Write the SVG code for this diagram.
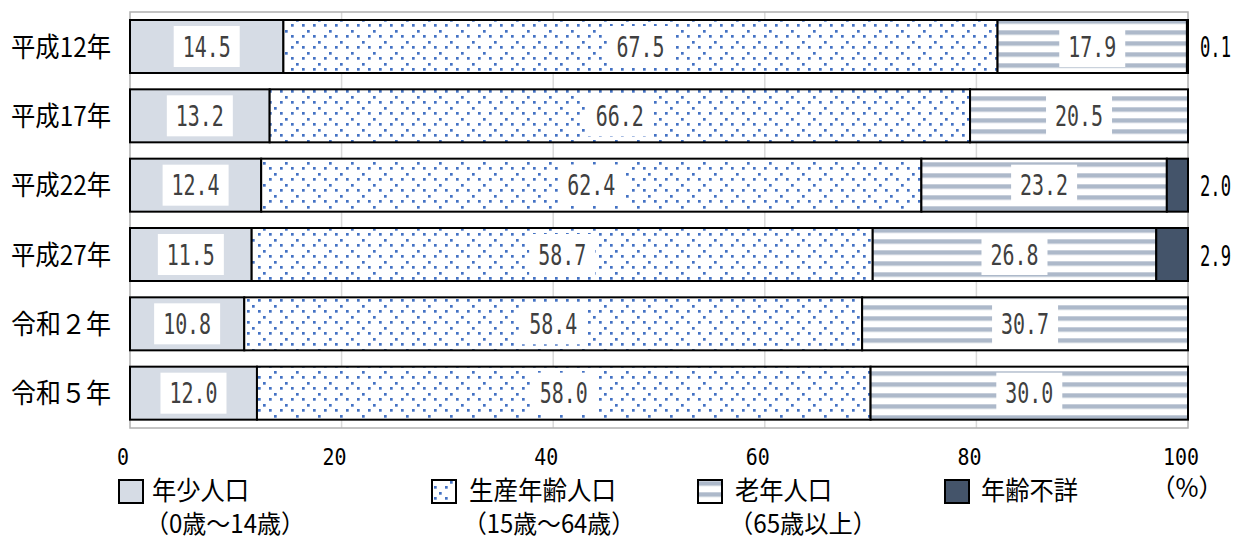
<svg xmlns="http://www.w3.org/2000/svg" width="1240" height="536" viewBox="0 0 1240 536">
<defs>
<pattern id="dots" patternUnits="userSpaceOnUse" x="291" y="24" width="22" height="22">
<rect width="22" height="22" fill="#ffffff"/>
<g fill="#4472c4">
<rect x="0" y="0" width="2.7" height="2.7"/><rect x="11" y="0" width="2.7" height="2.7"/>
<rect x="0" y="11" width="2.7" height="2.7"/><rect x="11" y="11" width="2.7" height="2.7"/>
<rect x="16" y="6" width="2.7" height="2.7"/><rect x="5" y="17" width="2.7" height="2.7"/>
</g>
</pattern>
<pattern id="stripes" patternUnits="userSpaceOnUse" x="0" y="8.3" width="22" height="11">
<rect width="22" height="11" fill="#ffffff"/>
<rect width="22" height="4.5" fill="#adb9ca"/>
</pattern>
<style>
.seg{stroke:#000;stroke-width:2}
.young{fill:#d6dce5}
.prod{fill:url(#dots)}
.old{fill:url(#stripes)}
.unk{fill:#44546a}
.lbox{fill:#fff}
.val{font-family:"DejaVu Sans Mono",monospace;font-size:29px;fill:#404040;text-anchor:middle}
.out{font-family:"DejaVu Sans Mono",monospace;font-size:28px;fill:#000}
.ax{font-family:"DejaVu Sans Mono",monospace;font-size:23px;fill:#000;text-anchor:middle}
.yl{font-family:"Noto Sans CJK JP","Noto Sans CJK SC",sans-serif;font-size:27px;fill:#000}
.lg{font-family:"Noto Sans CJK JP","Noto Sans CJK SC",sans-serif;font-size:26px;fill:#000}
.lg2{font-family:"Noto Sans CJK JP","Noto Sans CJK SC",sans-serif;font-size:25px;fill:#000}
.grid{stroke:#d9d9d9;stroke-width:1.5}
.frame{fill:none;stroke:#b0b0b0;stroke-width:1.5}
</style>
</defs>
<rect width="1240" height="536" fill="#fff"/>
<g id="plot-frame">
<line class="grid" x1="341.6" y1="12" x2="341.6" y2="428"/>
<line class="grid" x1="553.2" y1="12" x2="553.2" y2="428"/>
<line class="grid" x1="764.8" y1="12" x2="764.8" y2="428"/>
<line class="grid" x1="976.4" y1="12" x2="976.4" y2="428"/>
<rect class="frame" x="130" y="12" width="1058" height="416"/>
</g>
<g id="connectors"/>
<g id="row-h12">
<rect class="seg young" x="130" y="20" width="153.41" height="53"/>
<rect class="seg prod" x="283.41" y="20" width="714.15" height="53"/>
<rect class="seg old" x="997.56" y="20" width="189.38" height="53"/>
<rect class="seg unk" x="1186.94" y="20" width="1.06" height="53"/>
<rect class="lbox" x="173.7" y="26" width="66" height="41"/><text class="val" x="206.7" y="56.8" textLength="48" lengthAdjust="spacingAndGlyphs">14.5</text>
<rect class="lbox" x="607.5" y="26" width="66" height="41"/><text class="val" x="640.5" y="56.8" textLength="48" lengthAdjust="spacingAndGlyphs">67.5</text>
<rect class="lbox" x="1059.25" y="26" width="66" height="41"/><text class="val" x="1092.25" y="56.8" textLength="48" lengthAdjust="spacingAndGlyphs">17.9</text>
<text class="out" x="1200" y="57" textLength="31" lengthAdjust="spacingAndGlyphs">0.1</text>
<text class="yl" x="11" y="56.5" textLength="100" lengthAdjust="spacingAndGlyphs">平成12年</text>
</g>
<g id="row-h17">
<rect class="seg young" x="130" y="89.33" width="139.66" height="53"/>
<rect class="seg prod" x="269.66" y="89.33" width="700.4" height="53"/>
<rect class="seg old" x="970.06" y="89.33" width="217.94" height="53"/>
<rect class="lbox" x="166.83" y="95.33" width="66" height="41"/><text class="val" x="199.83" y="126.13" textLength="48" lengthAdjust="spacingAndGlyphs">13.2</text>
<rect class="lbox" x="586.86" y="95.33" width="66" height="41"/><text class="val" x="619.86" y="126.13" textLength="48" lengthAdjust="spacingAndGlyphs">66.2</text>
<rect class="lbox" x="1046.03" y="95.33" width="66" height="41"/><text class="val" x="1079.03" y="126.13" textLength="48" lengthAdjust="spacingAndGlyphs">20.5</text>
<text class="yl" x="11" y="125.83" textLength="100" lengthAdjust="spacingAndGlyphs">平成17年</text>
</g>
<g id="row-h22">
<rect class="seg young" x="130" y="158.67" width="131.19" height="53"/>
<rect class="seg prod" x="261.19" y="158.67" width="660.19" height="53"/>
<rect class="seg old" x="921.38" y="158.67" width="245.46" height="53"/>
<rect class="seg unk" x="1166.84" y="158.67" width="21.16" height="53"/>
<rect class="lbox" x="162.6" y="164.67" width="66" height="41"/><text class="val" x="195.6" y="195.47" textLength="48" lengthAdjust="spacingAndGlyphs">12.4</text>
<rect class="lbox" x="558.29" y="164.67" width="66" height="41"/><text class="val" x="591.29" y="195.47" textLength="48" lengthAdjust="spacingAndGlyphs">62.4</text>
<rect class="lbox" x="1011.11" y="164.67" width="66" height="41"/><text class="val" x="1044.11" y="195.47" textLength="48" lengthAdjust="spacingAndGlyphs">23.2</text>
<text class="out" x="1200" y="196.3" textLength="31" lengthAdjust="spacingAndGlyphs">2.0</text>
<text class="yl" x="11" y="195.17" textLength="100" lengthAdjust="spacingAndGlyphs">平成22年</text>
</g>
<g id="row-h27">
<rect class="seg young" x="130" y="228" width="121.67" height="53"/>
<rect class="seg prod" x="251.67" y="228" width="621.05" height="53"/>
<rect class="seg old" x="872.72" y="228" width="283.54" height="53"/>
<rect class="seg unk" x="1156.26" y="228" width="31.74" height="53"/>
<rect class="lbox" x="157.84" y="234" width="66" height="41"/><text class="val" x="190.84" y="264.8" textLength="48" lengthAdjust="spacingAndGlyphs">11.5</text>
<rect class="lbox" x="529.2" y="234" width="66" height="41"/><text class="val" x="562.2" y="264.8" textLength="48" lengthAdjust="spacingAndGlyphs">58.7</text>
<rect class="lbox" x="981.49" y="234" width="66" height="41"/><text class="val" x="1014.49" y="264.8" textLength="48" lengthAdjust="spacingAndGlyphs">26.8</text>
<text class="out" x="1200" y="265.6" textLength="31" lengthAdjust="spacingAndGlyphs">2.9</text>
<text class="yl" x="11" y="264.5" textLength="100" lengthAdjust="spacingAndGlyphs">平成27年</text>
</g>
<g id="row-r2">
<rect class="seg young" x="130" y="297.33" width="114.26" height="53"/>
<rect class="seg prod" x="244.26" y="297.33" width="617.87" height="53"/>
<rect class="seg old" x="862.13" y="297.33" width="325.87" height="53"/>
<rect class="lbox" x="154.13" y="303.33" width="66" height="41"/><text class="val" x="187.13" y="334.13" textLength="48" lengthAdjust="spacingAndGlyphs">10.8</text>
<rect class="lbox" x="520.2" y="303.33" width="66" height="41"/><text class="val" x="553.2" y="334.13" textLength="48" lengthAdjust="spacingAndGlyphs">58.4</text>
<rect class="lbox" x="992.07" y="303.33" width="66" height="41"/><text class="val" x="1025.07" y="334.13" textLength="48" lengthAdjust="spacingAndGlyphs">30.7</text>
<text class="yl" x="11" y="333.83" textLength="100" lengthAdjust="spacingAndGlyphs">令和２年</text>
</g>
<g id="row-r5">
<rect class="seg young" x="130" y="366.67" width="126.96" height="53"/>
<rect class="seg prod" x="256.96" y="366.67" width="613.64" height="53"/>
<rect class="seg old" x="870.6" y="366.67" width="317.4" height="53"/>
<rect class="lbox" x="160.48" y="372.67" width="66" height="41"/><text class="val" x="193.48" y="403.47" textLength="48" lengthAdjust="spacingAndGlyphs">12.0</text>
<rect class="lbox" x="530.78" y="372.67" width="66" height="41"/><text class="val" x="563.78" y="403.47" textLength="48" lengthAdjust="spacingAndGlyphs">58.0</text>
<rect class="lbox" x="996.3" y="372.67" width="66" height="41"/><text class="val" x="1029.3" y="403.47" textLength="48" lengthAdjust="spacingAndGlyphs">30.0</text>
<text class="yl" x="11" y="403.17" textLength="100" lengthAdjust="spacingAndGlyphs">令和５年</text>
</g>
<g id="x-axis">
<text class="ax" x="123" y="465" textLength="12" lengthAdjust="spacingAndGlyphs">0</text>
<text class="ax" x="334.6" y="465" textLength="24" lengthAdjust="spacingAndGlyphs">20</text>
<text class="ax" x="546.2" y="465" textLength="24" lengthAdjust="spacingAndGlyphs">40</text>
<text class="ax" x="757.8" y="465" textLength="24" lengthAdjust="spacingAndGlyphs">60</text>
<text class="ax" x="969.4" y="465" textLength="24" lengthAdjust="spacingAndGlyphs">80</text>
<text class="ax" x="1181" y="465" textLength="36" lengthAdjust="spacingAndGlyphs">100</text>
</g>
<g id="legend">
<rect class="seg young" x="119" y="480" width="24" height="23"/>
<text class="lg" x="152" y="500" textLength="97" lengthAdjust="spacingAndGlyphs">年少人口</text>
<text class="lg2" x="145" y="533" textLength="160" lengthAdjust="spacingAndGlyphs">（0歳～14歳）</text>
<rect class="seg prod" x="432" y="480" width="24" height="23"/>
<text class="lg" x="469" y="500" textLength="147" lengthAdjust="spacingAndGlyphs">生産年齢人口</text>
<text class="lg2" x="463" y="533" textLength="172" lengthAdjust="spacingAndGlyphs">（15歳～64歳）</text>
<rect class="seg old" x="698" y="480" width="24" height="23"/>
<text class="lg" x="735" y="500" textLength="97" lengthAdjust="spacingAndGlyphs">老年人口</text>
<text class="lg2" x="729" y="533" textLength="148" lengthAdjust="spacingAndGlyphs">（65歳以上）</text>
<rect class="seg unk" x="945" y="480" width="24" height="23"/>
<text class="lg" x="981" y="500" textLength="97" lengthAdjust="spacingAndGlyphs">年齢不詳</text>
<text class="lg2" x="1187" y="497" text-anchor="middle">（%）</text>
</g>
</svg>
